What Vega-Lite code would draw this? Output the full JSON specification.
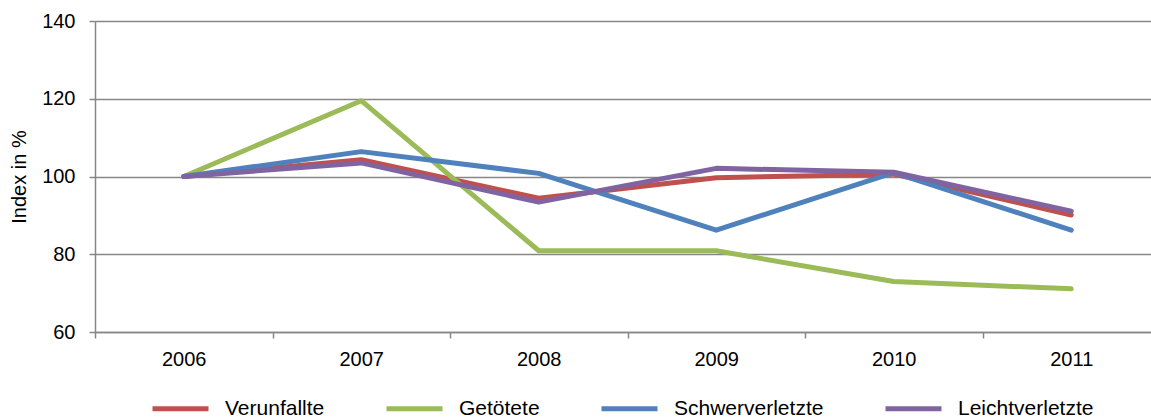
{
  "$schema": "https://vega.github.io/schema/vega-lite/v6.json",
  "width": 1056,
  "height": 311,
  "autosize": {"type": "none"},
  "padding": {"left": 95, "top": 21, "right": 0, "bottom": 87},
  "background": "white",
  "config": {"view": {"stroke": null}, "font": "Liberation Sans"},
  "data": {
    "values": [
      {"year": "2006", "series": "Verunfallte", "value": 100},
      {"year": "2007", "series": "Verunfallte", "value": 104.3},
      {"year": "2008", "series": "Verunfallte", "value": 94.4},
      {"year": "2009", "series": "Verunfallte", "value": 99.7},
      {"year": "2010", "series": "Verunfallte", "value": 100.6},
      {"year": "2011", "series": "Verunfallte", "value": 90.1},
      {"year": "2006", "series": "Getötete", "value": 100},
      {"year": "2007", "series": "Getötete", "value": 119.5},
      {"year": "2008", "series": "Getötete", "value": 80.9},
      {"year": "2009", "series": "Getötete", "value": 80.9},
      {"year": "2010", "series": "Getötete", "value": 73},
      {"year": "2011", "series": "Getötete", "value": 71.1},
      {"year": "2006", "series": "Schwerverletzte", "value": 100},
      {"year": "2007", "series": "Schwerverletzte", "value": 106.4},
      {"year": "2008", "series": "Schwerverletzte", "value": 100.8},
      {"year": "2009", "series": "Schwerverletzte", "value": 86.2},
      {"year": "2010", "series": "Schwerverletzte", "value": 101},
      {"year": "2011", "series": "Schwerverletzte", "value": 86.2},
      {"year": "2006", "series": "Leichtverletzte", "value": 100},
      {"year": "2007", "series": "Leichtverletzte", "value": 103.5},
      {"year": "2008", "series": "Leichtverletzte", "value": 93.4},
      {"year": "2009", "series": "Leichtverletzte", "value": 102.1},
      {"year": "2010", "series": "Leichtverletzte", "value": 101.1},
      {"year": "2011", "series": "Leichtverletzte", "value": 91.1}
    ]
  },
  "mark": {"type": "line", "strokeWidth": 5, "strokeCap": "round", "strokeJoin": "round"},
  "encoding": {
    "x": {
      "field": "year",
      "type": "ordinal",
      "scale": {"type": "band", "paddingInner": 0, "paddingOuter": 0, "range": [0, 1065]},
      "axis": {
        "title": null,
        "tickBand": "extent",
        "labelAngle": 0,
        "labelFontSize": 20,
        "labelColor": "#000000",
        "labelPadding": 11,
        "tickSize": 6,
        "tickColor": "#868686",
        "tickWidth": 1.5,
        "domainColor": "#868686",
        "domainWidth": 1.5,
        "grid": false
      }
    },
    "y": {
      "field": "value",
      "type": "quantitative",
      "scale": {"domain": [60, 140], "nice": false, "zero": false},
      "axis": {
        "title": "Index in %",
        "titleFontSize": 20,
        "titleFontWeight": "normal",
        "titleColor": "#000000",
        "titlePadding": 12,
        "values": [60, 80, 100, 120, 140],
        "labelFontSize": 20,
        "labelColor": "#000000",
        "labelPadding": 14,
        "tickSize": 6,
        "tickColor": "#868686",
        "tickWidth": 1.5,
        "domainColor": "#868686",
        "domainWidth": 1.5,
        "grid": true,
        "gridColor": "#868686",
        "gridWidth": 1.5
      }
    },
    "color": {
      "field": "series",
      "type": "nominal",
      "scale": {
        "domain": ["Verunfallte", "Getötete", "Schwerverletzte", "Leichtverletzte"],
        "range": ["#C0504D", "#9BBB59", "#4F81BD", "#8064A2"]
      },
      "legend": {
        "title": null,
        "orient": "none",
        "direction": "horizontal",
        "legendX": 55,
        "legendY": 357,
        "padding": 0,
        "symbolType": "stroke",
        "symbolSize": 3136,
        "symbolStrokeWidth": 5,
        "labelFontSize": 21,
        "labelColor": "#000000",
        "labelOffset": 14,
        "columnPadding": 51,
        "labelLimit": 300
      }
    }
  }
}
